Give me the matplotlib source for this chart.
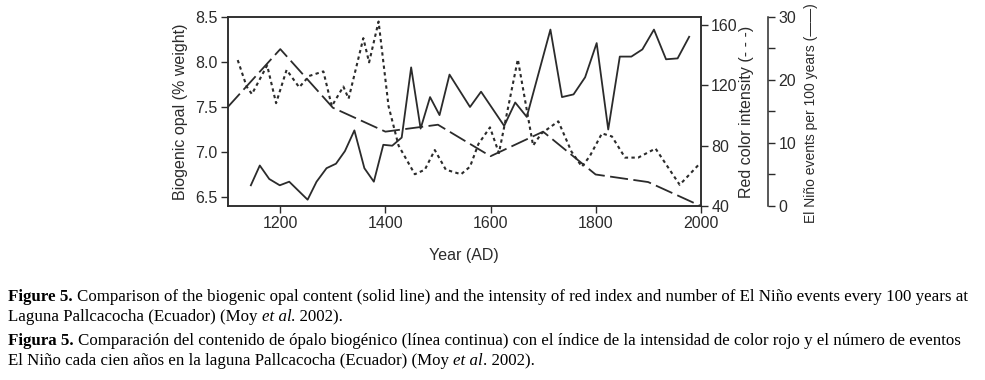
#!/usr/bin/env python3

import matplotlib
matplotlib.use("Agg")
import matplotlib.pyplot as plt
from matplotlib.ticker import MultipleLocator


# biogenic opal content (% weight), solid line
opal_years = [1144, 1161, 1179, 1199, 1217, 1252, 1269, 1288, 1306, 1323, 1341, 1360, 1378,
              1396, 1413, 1431, 1449, 1467, 1485, 1503, 1522, 1561, 1582, 1626, 1647, 1669,
              1714, 1736, 1758, 1780, 1802, 1824, 1846, 1868, 1889, 1911, 1934, 1956, 1978]
opal_vals = [6.63, 6.85, 6.70, 6.63, 6.67, 6.47, 6.67, 6.82, 6.87, 7.01, 7.24, 6.82, 6.67,
             7.08, 7.07, 7.16, 7.94, 7.26, 7.61, 7.41, 7.86, 7.50, 7.67, 7.29, 7.55, 7.39,
             8.36, 7.61, 7.64, 7.83, 8.21, 7.25, 8.06, 8.06, 8.14, 8.36, 8.03, 8.04, 8.28]

# red color intensity, dotted line
red_years = [1119, 1136, 1146, 1175, 1192, 1212, 1236, 1255, 1282, 1298, 1320, 1330, 1358,
             1369, 1387, 1406, 1425, 1456, 1475, 1494, 1515, 1544, 1561, 1577, 1599, 1616,
             1652, 1681, 1697, 1729, 1754, 1774, 1789, 1812, 1831, 1856, 1881, 1914, 1960, 1998]
red_vals = [136.5, 119, 114, 133, 108, 130, 118.5, 126, 129, 106, 119, 111, 151,
            135, 162, 106, 80, 61, 64, 77, 64, 61, 66, 81, 92, 75,
            137, 80, 88, 96, 76, 66, 73, 88, 86, 72, 72, 78, 54, 68]

# El Nino events per 100 years, long dashes
nino_years = [1100, 1200, 1300, 1400, 1500, 1600, 1700, 1800, 1900, 2000]
nino_vals = [15.7, 24.9, 15.6, 11.8, 12.9, 7.9, 11.8, 5.0, 3.8, 0.0]

year_ticks = [1200, 1400, 1600, 1800, 2000]

caption = [
    [("Figure 5.", "bold", "normal"),
     ("Comparison of the biogenic opal content (solid line) and the intensity of red index "
      "and number of El Niño events every 100 years at", "normal", "normal")],
    [("Laguna Pallcacocha (Ecuador) (Moy", "normal", "normal"), ("et al", "normal", "italic"),
     (". 2002).", "normal", "normal")],
    [("Figura 5.", "bold", "normal"),
     ("Comparación del contenido de ópalo biogénico (línea continua) con el índice de la "
      "intensidad de color rojo y el número de eventos", "normal", "normal")],
    [("El Niño cada cien años en la laguna Pallcacocha (Ecuador) (Moy", "normal", "normal"),
     ("et al", "normal", "italic"), (". 2002).", "normal", "normal")],
]

INK = "#2b2b2b"
SANS = ["Liberation Sans", "DejaVu Sans"]
SERIF = ["Liberation Serif", "DejaVu Serif"]
TICK_SIZE = 11.5


def style_axis(ax):
    ax.tick_params(direction="out", length=5, width=1, colors=INK,
                   labelsize=TICK_SIZE, pad=2.5)


def draw_caption(fig, rows, x0, y_rows, size):
    # lay out each caption line as consecutive runs (bold / plain / italic)
    renderer = fig.canvas.get_renderer()
    W, H = fig.bbox.width, fig.bbox.height
    space = 0.25 * size * fig.dpi / 72.0
    for runs, y in zip(rows, y_rows):
        x = x0
        for i, (txt, weight, style) in enumerate(runs):
            if i > 0 and not txt.startswith("."):
                x += space
            t = fig.text(x / W, 1 - y / H, txt, fontsize=size, family=SERIF,
                         weight=weight, style=style, color="black", va="baseline", ha="left")
            x += t.get_window_extent(renderer).width


def main():
    plt.rcParams["font.family"] = SANS
    fig = plt.figure(figsize=(9.85, 3.8), dpi=100)
    fig.patch.set_facecolor("white")

    ax = fig.add_axes([0.2312, 0.4579, 0.4802, 0.4974])
    ax.plot(opal_years, opal_vals, color=INK, linewidth=1.3, zorder=3)
    ax.set_xlim(1100, 2000)
    ax.set_ylim(6.4, 8.5)
    ax.set_xticks(year_ticks)
    ax.yaxis.set_major_locator(MultipleLocator(0.5))
    ax.yaxis.set_major_formatter(plt.FormatStrFormatter("%.1f"))
    ax.set_xlabel("Year (AD)", fontsize=TICK_SIZE, color=INK, labelpad=12)
    ax.set_ylabel("Biogenic opal (% weight)", fontsize=TICK_SIZE, color=INK, labelpad=5)
    for s in ax.spines.values():
        s.set_color(INK)
        s.set_linewidth(1.1)
    style_axis(ax)

    ax_red = ax.twinx()
    ax_red.plot(red_years, red_vals, color=INK, linewidth=1.5, linestyle=(0, (1.6, 1.6)))
    ax_red.set_ylim(40, 165)
    ax_red.set_yticks([40, 80, 120, 160])
    ax_red.set_ylabel("Red color intensity (- - -)", fontsize=TICK_SIZE, color=INK)
    ax_red.yaxis.set_label_coords(1.081, 0.5)
    for s in ax_red.spines.values():
        s.set_color(INK)
        s.set_linewidth(1.1)
    style_axis(ax_red)

    ax_nino = ax.twinx()
    ax_nino.plot(nino_years, nino_vals, color=INK, linewidth=1.3, linestyle=(0, (10, 3)))
    ax_nino.set_ylim(0, 30)
    ax_nino.yaxis.set_major_locator(MultipleLocator(10))
    ax_nino.yaxis.set_minor_locator(MultipleLocator(5))
    ax_nino.spines["right"].set_position(("axes", 1.142))
    for side in ["top", "bottom", "left"]:
        ax_nino.spines[side].set_visible(False)
    ax_nino.spines["right"].set_color(INK)
    ax_nino.spines["right"].set_linewidth(1.1)
    ax_nino.set_ylabel("El Niño events per 100 years (——)", fontsize=10, color=INK)
    ax_nino.yaxis.set_label_coords(1.218, 0.49)
    style_axis(ax_nino)
    ax_nino.tick_params(which="minor", direction="out", length=5, width=1, colors=INK)

    draw_caption(fig, caption, 8, [301, 321, 345, 365], 12.2)

    fig.savefig("out.png", dpi=100, facecolor="white")


if __name__ == "__main__":
    main()
